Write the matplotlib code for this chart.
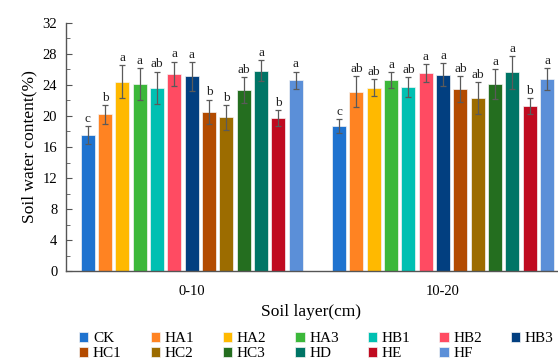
import numpy as np
import matplotlib
matplotlib.use("Agg")
import matplotlib.pyplot as plt
from matplotlib.ticker import MultipleLocator

plt.rcParams["font.family"] = ["Liberation Serif", "DejaVu Serif"]

# ----------------------------
# Data
# ----------------------------
LAYERS = ["0-10", "10-20"]
TREATMENTS = ["CK", "HA1", "HA2", "HA3", "HB1", "HB2", "HB3",
              "HC1", "HC2", "HC3", "HD", "HE", "HF"]

MEAN_0_10 = [17.5, 20.2, 24.4, 24.1, 23.6, 25.4, 25.1, 20.5, 19.8, 23.3, 25.8, 19.7, 24.6]
ERR_0_10  = [1.15, 1.2, 2.1, 2.0, 2.1, 1.6, 1.85, 1.6, 1.6, 1.7, 1.35, 1.05, 1.1]
SIG_0_10  = ["c", "b", "a", "a", "ab", "a", "a", "b", "b", "ab", "a", "b", "a"]

MEAN_10_20 = [18.7, 23.1, 23.6, 24.6, 23.7, 25.5, 25.3, 23.5, 22.3, 24.1, 25.6, 21.3, 24.7]
ERR_10_20  = [0.85, 2.0, 1.1, 1.05, 1.25, 1.2, 1.45, 1.65, 2.0, 1.95, 2.1, 1.0, 1.4]
SIG_10_20  = ["c", "ab", "ab", "a", "ab", "a", "a", "ab", "ab", "a", "a", "b", "a"]

COLORS = ["#1f73cf", "#ff8322", "#ffb900", "#3cb83a", "#00c0b2", "#ff4b62", "#023f80",
          "#b34b00", "#9c6c00", "#246e1f", "#007566", "#c00b20", "#5b8fd8"]

means = [MEAN_0_10, MEAN_10_20]
errs = [ERR_0_10, ERR_10_20]
sigs = [SIG_0_10, SIG_10_20]

# ----------------------------
# Layout
# ----------------------------
n = len(TREATMENTS)
group_gap = 14.5
bar_w = 0.81
group_centers = np.arange(len(LAYERS)) * group_gap
offsets = np.arange(n) - (n - 1) / 2

fig = plt.figure(figsize=(5.58, 3.63), dpi=100)
ax = fig.add_axes([0.1177, 0.2526, 0.880, 0.685])

for i, name in enumerate(TREATMENTS):
    xs = group_centers + offsets[i]
    ys = [means[g][i] for g in range(len(LAYERS))]
    es = [errs[g][i] for g in range(len(LAYERS))]
    ax.bar(xs, ys, width=bar_w, color=COLORS[i], edgecolor="#f4f4f4",
           linewidth=0.5, label=name, zorder=2)
    ax.errorbar(xs, ys, yerr=es, fmt="none", ecolor="#5a5a5a",
                elinewidth=0.9, capsize=2, capthick=0.9, zorder=3)
    for g in range(len(LAYERS)):
        ax.text(xs[g], ys[g] + es[g] + 0.15, sigs[g][i], ha="center", va="bottom",
                fontsize=9.5, color="#222222")

ax.set_ylim(0, 32)
ax.set_xlim(group_centers[0] + offsets[0] - bar_w / 2 - 0.87,
            group_centers[-1] + offsets[-1] + bar_w / 2 + 0.15)
ax.yaxis.set_major_locator(MultipleLocator(4))
ax.yaxis.set_minor_locator(MultipleLocator(2))
ax.tick_params(axis="y", which="both", direction="in", labelsize=10.5,
               color="#555555", pad=6)
ax.tick_params(axis="y", which="major", length=4)
ax.tick_params(axis="y", which="minor", length=3)
ax.set_xticks(group_centers)
ax.set_xticklabels(LAYERS, fontsize=10.5)
ax.tick_params(axis="x", length=0, pad=10)

for side in ["top", "right"]:
    ax.spines[side].set_visible(False)
for side in ["left", "bottom"]:
    ax.spines[side].set_color("#555555")
    ax.spines[side].set_linewidth(1.0)

ax.set_ylabel("Soil water content(%)", fontsize=12.5, labelpad=4)
ax.set_xlabel("Soil layer(cm)", fontsize=12.5, labelpad=4)

# legend filled row by row: 7 entries on top, 6 below
ncol = 7
handles, labels = ax.get_legend_handles_labels()
order = []
for c in range(ncol):
    for r in range(2):
        k = r * ncol + c
        if k < len(handles):
            order.append(k)
ax.legend([handles[k] for k in order], [labels[k] for k in order],
          loc="upper left", bbox_to_anchor=(0.015, -0.22), ncol=ncol,
          frameon=False, fontsize=11, handlelength=0.6, handleheight=0.6,
          handletextpad=0.3, columnspacing=1.9, labelspacing=0.12,
          borderaxespad=0)

fig.savefig("out.png", dpi=100)
